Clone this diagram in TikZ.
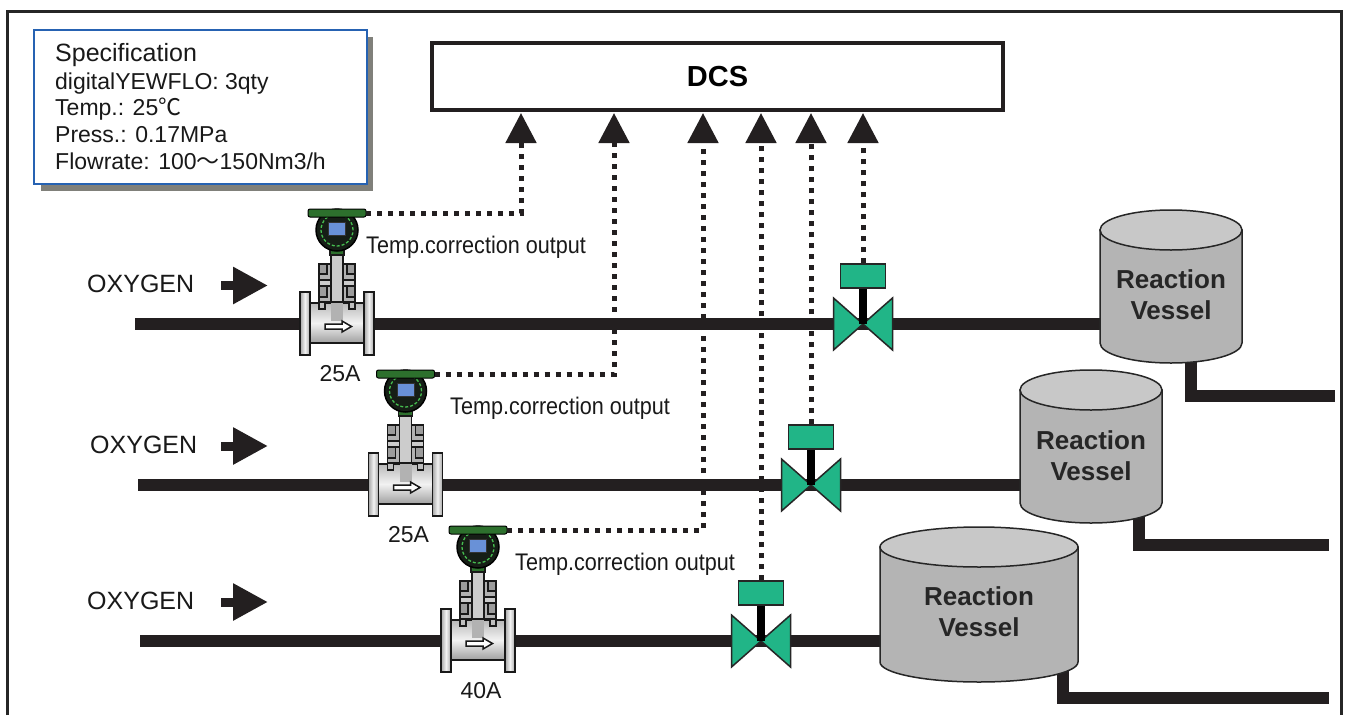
\documentclass[tikz,border=0pt]{standalone}
\usepackage{fontspec}
\setmainfont{Liberation Sans}
\newfontfamily\cjk{Noto Sans CJK JP}
\usetikzlibrary{arrows.meta,calc}
\definecolor{pipec}{RGB}{35,31,32}
\definecolor{vteal}{RGB}{33,181,135}
\definecolor{vbodyc}{RGB}{180,180,180}
\definecolor{vtopc}{RGB}{200,200,200}
\definecolor{specblue}{RGB}{38,98,178}
\definecolor{shadowc}{RGB}{128,128,122}
\definecolor{fmgreen}{RGB}{45,112,45}
\definecolor{fmring}{RGB}{70,190,80}
\definecolor{fmdisp}{RGB}{105,145,215}
\definecolor{fmdark}{RGB}{22,30,22}
\tikzset{
  pipe/.style={line width=12pt, draw=pipec, line join=miter},
  sig/.style={line width=5pt, draw=pipec, dash pattern=on 5pt off 6pt, -{Triangle[length=30pt,width=30pt]}},
  oxyarr/.style={line width=9pt, draw=pipec, -{Triangle[length=35pt,width=35pt]}},
  fmo/.style={draw=black!90, line width=1.5pt},
  vlv/.style={draw=black!85, line width=1.5pt, fill=vteal},
  act/.style={draw=black!85, line width=1.5pt, fill=vteal, minimum width=45pt, minimum height=24pt, inner sep=0pt},
  vbody/.style={draw=black!85, line width=1.5pt, fill=vbodyc},
  vtop/.style={draw=black!85, line width=1.5pt, fill=vtopc},
  vtxt/.style={font=\fontsize{26}{31}\selectfont\bfseries, align=center, text=black!85, inner sep=0pt},
  tcorr/.style={anchor=base west, inner sep=0pt, font=\fontsize{24}{28}\selectfont, text=black!90},
  spect/.style={anchor=base west, inner sep=0pt, font=\fontsize{23}{27}\selectfont, text=black!90},
  sizelbl/.style={anchor=base, inner sep=0pt, font=\fontsize{23}{27}\selectfont, text=black!90},
  oxylbl/.style={anchor=base west, inner sep=0pt, font=\fontsize{25}{29}\selectfont, text=black!90},
}
\newcommand\FMeter[4]{%
\begin{scope}[shift={(#1,#2)}]
  % body tube and flanges
  \draw[fmo, top color=gray!55, bottom color=gray!75, middle color=gray!10] (-27,-21) rectangle (27,19);
  \draw[fmo, left color=gray!70, right color=gray!70, middle color=gray!10] (-37,-32) rectangle (-27,31);
  \draw[fmo, left color=gray!70, right color=gray!70, middle color=gray!10] (27,-32) rectangle (37,31);
  % stem inside tube
  \fill[gray!60] (-6,-21) rectangle (6,-3);
  \draw[fmo, fill=gray!50] (-18,-22) -- (-18,-15) -- (-12,-15) -- (-12,-22);
  \draw[fmo, fill=gray!50] (18,-22) -- (18,-15) -- (12,-15) -- (12,-22);
  % clamp block
  \draw[fmo, fill=gray!60] (-18,-60) rectangle (18,-22);
  \draw[fmo, fill=gray!78] (-18,-60) rectangle (-10,-50);
  \draw[fmo, fill=gray!78] (10,-60) rectangle (18,-50);
  \draw[fmo, fill=gray!40] (-18,-44) rectangle (18,-38);
  \draw[fmo, fill=gray!78] (-18,-38) rectangle (-10,-27);
  \draw[fmo, fill=gray!78] (10,-38) rectangle (18,-27);
  % stem
  \draw[fmo, fill=gray!40] (-6,-70) rectangle (6,-22);
  % flow arrow
  \draw[fmo, fill=white] (-12,0) -- (5,0) -- (5,-3) -- (14.5,2.5) -- (5,8) -- (5,5) -- (-12,5) -- cycle;
  % neck
  \draw[fmo, fill=fmgreen] (-7,-74) rectangle (7,-69);
  % head
  \draw[draw=black, line width=1.5pt, fill=fmdark] (0,-94) circle [radius=21pt];
  \draw[fmring, line width=1.3pt, dash pattern=on 3pt off 2pt] (0,-94) circle [radius=16pt];
  \draw[draw=black!80, line width=0.6pt, fill=fmdisp] (-8.5,-102) rectangle (8.5,-89);
  \draw[draw=black, line width=1pt, fill=fmgreen, rounded corners=2pt] (-29,-115) rectangle (29,-107);
  \coordinate (#3h) at (29,-111);
  \node[sizelbl] (#3l) at (3,57) {#4};
\end{scope}}
\newcommand\Valve[3]{%
  \draw[vlv] (#1,#2) -- (#1-29.5,#2-26) -- (#1-29.5,#2+26) -- cycle;
  \draw[vlv] (#1,#2) -- (#1+29.5,#2-26) -- (#1+29.5,#2+26) -- cycle;
  \fill[black] (#1-4,#2-38) rectangle (#1+4,#2);
  \node[act] (#3) at (#1,#2-48) {};
}
\newcommand\Vessel[6]{%
  \filldraw[vbody] (#1-#2,#3) -- (#1-#2,#4) arc[start angle=180,end angle=360,x radius=#2pt,y radius=20pt] -- (#1+#2,#3) -- cycle;
  \filldraw[vtop] (#1,#3) ellipse [x radius=#2pt, y radius=20pt];
  \node[vtxt] (#5) at (#1,#6) {Reaction\\Vessel};
}
\begin{document}
\begin{tikzpicture}[x=1pt,y=-1pt]
\useasboundingbox (0,0) rectangle (1346,715);
\fill[white] (0,0) rectangle (1346,715);
% frame
\draw[line width=3pt, draw=black!85] (7.5,715) -- (7.5,11.5) -- (1341,11.5) -- (1341,715);
% spec box
\fill[shadowc] (41,37) rectangle (373,191);
\node[draw=specblue, line width=2pt, fill=white, minimum width=333pt, minimum height=154pt, inner sep=0pt] (spec) at (200.5,107) {};
\node[spect, font=\fontsize{25}{29}\selectfont] (s0) at (55,61) {Specification};
\node[spect] (s1) at (55,89) {digitalYEWFLO: 3qty};
\node[spect] (s2) at (55,115) {Temp.: 25{\cjk ℃}};
\node[spect] (s3) at (55,142) {Press.: 0.17MPa};
\node[spect] (s4) at (55,169) {Flowrate: 100{\cjk ～}150Nm3/h};
% DCS
\node[draw=pipec, line width=4pt, minimum width=571pt, minimum height=67pt, inner sep=0pt, font=\fontsize{29}{33}\selectfont\bfseries] (dcs) at (717.5,76.5) {DCS};
\coordinate (t1) at (521,113);
\coordinate (t2) at (614,113);
\coordinate (t3) at (703,113);
\coordinate (t4) at (761,113);
\coordinate (t5) at (811,113);
\coordinate (t6) at (863,113);
% pipes
\coordinate (p1s) at (135,324);
\coordinate (p2s) at (138,485);
\coordinate (p3s) at (140,641);
\coordinate (v1in) at (1104,324);
\coordinate (v2in) at (1024,485);
\coordinate (v3in) at (884,641);
\draw[pipe] (p1s) -- (v1in);
\draw[pipe] (p2s) -- (v2in);
\draw[pipe] (p3s) -- (v3in);
\coordinate (v1o) at (1191,350);
\coordinate (v1e) at (1335,396);
\coordinate (v2o) at (1139,510);
\coordinate (v2e) at (1329,545);
\coordinate (v3o) at (1063,670);
\coordinate (v3e) at (1329,698);
\draw[pipe] (v1o) |- (v1e);
\draw[pipe] (v2o) |- (v2e);
\draw[pipe] (v3o) |- (v3e);
% vessels
\Vessel{1171}{71}{230}{343}{ves1}{295}
\Vessel{1091}{71}{390}{503}{ves2}{455.5}
\Vessel{979}{99}{547}{662}{ves3}{612}
% flowmeters
\FMeter{337}{324}{fa}{25A}
\FMeter{405.5}{485}{fb}{25A}
\FMeter{478}{641}{fc}{40A}
% valves
\Valve{863}{324}{va1}
\Valve{811}{485}{va2}
\Valve{761}{641}{va3}
% signal lines
\draw[sig] (fah) -| (t1);
\draw[sig] (fbh) -| (t2);
\draw[sig] (fch) -| (t3);
\draw[sig] (va3.north) -- (t4);
\draw[sig] (va2.north) -- (t5);
\draw[sig] (va1.north) -- (t6);
% labels
\node[tcorr] (tc1) at (366,253) {\scalebox{0.9}[1]{Temp.correction output}};
\node[tcorr] (tc2) at (450,414) {\scalebox{0.9}[1]{Temp.correction output}};
\node[tcorr] (tc3) at (515,570) {\scalebox{0.9}[1]{Temp.correction output}};
% oxygen
\node[oxylbl] (ox1) at (87,292) {OXYGEN};
\node[oxylbl] (ox2) at (90,453) {OXYGEN};
\node[oxylbl] (ox3) at (87,609) {OXYGEN};
\coordinate (o1a) at (221,285.5);
\coordinate (o1b) at (268,285.5);
\coordinate (o2a) at (221,446);
\coordinate (o2b) at (268,446);
\coordinate (o3a) at (221,602);
\coordinate (o3b) at (268,602);
\draw[oxyarr] (o1a) -- (o1b);
\draw[oxyarr] (o2a) -- (o2b);
\draw[oxyarr] (o3a) -- (o3b);
\end{tikzpicture}
\end{document}
